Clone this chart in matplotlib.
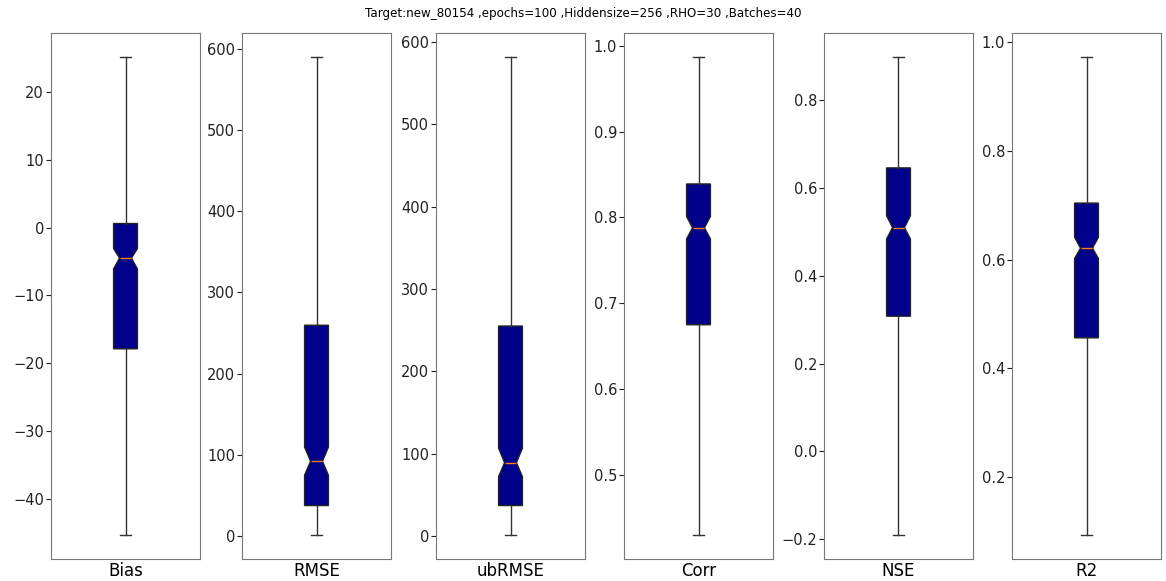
import matplotlib
matplotlib.use("Agg")
import matplotlib.pyplot as plt

# metric names shown under each panel
metrics = ['Bias', 'RMSE', 'ubRMSE', 'Corr', 'NSE', 'R2']

# box statistics (whiskers go to min / max)
whis_lo = [-45.4, 1.0, 1.0, 0.430, -0.191, 0.093]
q1 = [-17.9, 37.4, 36.9, 0.675, 0.308, 0.456]
med = [-4.5, 92.0, 89.0, 0.788, 0.510, 0.621]
q3 = [0.6, 259.5, 255.0, 0.839, 0.646, 0.704]
whis_hi = [25.2, 590.0, 582.0, 0.987, 0.899, 0.973]
ci_lo = [-6.1, 74.8, 72.0, 0.775, 0.484, 0.602]
ci_hi = [-3.1, 109.4, 106.6, 0.801, 0.537, 0.641]

title = 'Target:new_80154 ,epochs=100 ,Hiddensize=256 ,RHO=30 ,Batches=40'

W, H = 1166, 581
fig = plt.figure(figsize=(W / 100, H / 100), dpi=100)

lefts = [51, 242, 436, 624, 824, 1012]
ax_w = 149
top, bottom = 33, 559

for i, name in enumerate(metrics):
    ax = fig.add_axes([lefts[i] / W, (H - bottom) / H, ax_w / W, (bottom - top) / H])
    stats = [{
        'med': med[i], 'q1': q1[i], 'q3': q3[i],
        'whislo': whis_lo[i], 'whishi': whis_hi[i],
        'cilo': ci_lo[i], 'cihi': ci_hi[i], 'fliers': [],
    }]
    ax.bxp(stats, shownotches=True, patch_artist=True, widths=0.16,
           boxprops=dict(facecolor='darkblue', edgecolor='#222222', linewidth=1),
           medianprops=dict(color='#ff7f0e', linewidth=1),
           whiskerprops=dict(color='#333333', linewidth=1),
           capprops=dict(color='#333333', linewidth=1))
    ax.set_xticks([1])
    ax.set_xticklabels([name], fontsize=12)
    ax.tick_params(axis='x', length=0, pad=2)
    ax.tick_params(axis='y', labelsize=10.5, colors='#222222', pad=1.5)
    for sp in ax.spines.values():
        sp.set_color('#777777')

fig.text(0.5, 1 - 13 / H, title, ha='center', va='center', fontsize=8.6)

fig.savefig('out.png', dpi=100)
